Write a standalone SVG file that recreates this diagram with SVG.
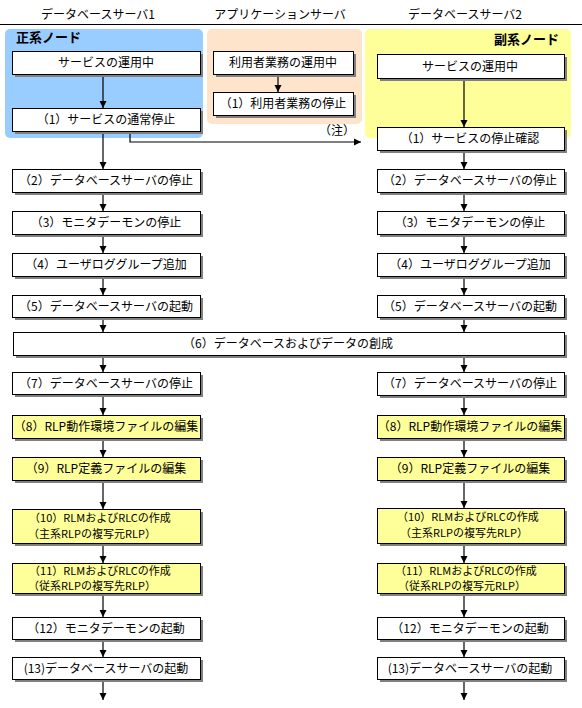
<svg xmlns="http://www.w3.org/2000/svg" width="582" height="708" viewBox="0 0 582 708">
<defs>
<style>
.t{font-family:"Noto Sans CJK JP","Noto Sans CJK SC",sans-serif;font-size:12px;fill:#000;text-anchor:middle}
.t2{font-family:"Noto Sans CJK JP","Noto Sans CJK SC",sans-serif;font-size:11px;fill:#000;text-anchor:middle}
.h{font-family:"Noto Sans CJK JP","Noto Sans CJK SC",sans-serif;font-size:12px;fill:#000;text-anchor:middle}
.lb{font-family:"Noto Sans CJK JP","Noto Sans CJK SC",sans-serif;font-size:13px;font-weight:bold;fill:#000}
.sh{fill:#808080}
.bx{fill:#fff;stroke:#000;stroke-width:1}
.yb{fill:#ffff99;stroke:#000;stroke-width:1}
.ln{stroke:#000;stroke-width:1.2;fill:none}
</style>
<marker id="ah" markerWidth="8" markerHeight="8" refX="7" refY="4" orient="auto" markerUnits="userSpaceOnUse"><path d="M0,0.5 L7,4 L0,7.5 z" fill="#000"/></marker>
</defs>
<rect width="582" height="708" fill="#fff"/>

<g id="header">
<text class="h" x="98" y="19">データベースサーバ1</text>
<text class="h" x="280" y="19">アプリケーションサーバ</text>
<text class="h" x="465" y="19">データベースサーバ2</text>
<line x1="0" y1="24.5" x2="582" y2="24.5" stroke="#000" stroke-width="1"/>
</g>

<g id="regions">
<rect x="5" y="29" width="198" height="109" rx="5" fill="#99ccff"/>
<rect x="207" y="29" width="155" height="95" rx="5" fill="#ffe4cc"/>
<rect x="365" y="29" width="206" height="109" rx="5" fill="#ffff99"/>
<text class="lb" x="16" y="42">正系ノード</text>
<text class="lb" x="559" y="44" text-anchor="end">副系ノード</text>
</g>

<g id="connectors">
<line class="ln" x1="103" y1="74" x2="103" y2="108" marker-end="url(#ah)"/>
<line class="ln" x1="103" y1="131" x2="103" y2="169" marker-end="url(#ah)"/>
<line class="ln" x1="103" y1="192" x2="103" y2="211" marker-end="url(#ah)"/>
<line class="ln" x1="103" y1="234" x2="103" y2="253" marker-end="url(#ah)"/>
<line class="ln" x1="103" y1="276" x2="103" y2="295" marker-end="url(#ah)"/>
<line class="ln" x1="103" y1="317" x2="103" y2="332" marker-end="url(#ah)"/>
<line class="ln" x1="103" y1="355" x2="103" y2="372" marker-end="url(#ah)"/>
<line class="ln" x1="103" y1="394" x2="103" y2="415" marker-end="url(#ah)"/>
<line class="ln" x1="103" y1="438" x2="103" y2="457" marker-end="url(#ah)"/>
<line class="ln" x1="103" y1="480" x2="103" y2="509" marker-end="url(#ah)"/>
<line class="ln" x1="103" y1="543" x2="103" y2="563" marker-end="url(#ah)"/>
<line class="ln" x1="103" y1="593" x2="103" y2="617" marker-end="url(#ah)"/>
<line class="ln" x1="103" y1="639" x2="103" y2="657" marker-end="url(#ah)"/>
<line class="ln" x1="103" y1="679" x2="103" y2="700" marker-end="url(#ah)"/>

<line class="ln" x1="278" y1="74" x2="278" y2="92" marker-end="url(#ah)"/>

<path class="ln" d="M130,131 V142 H361" marker-end="url(#ah)"/>

<line class="ln" x1="464" y1="78" x2="464" y2="127" marker-end="url(#ah)"/>
<line class="ln" x1="464" y1="150" x2="464" y2="169" marker-end="url(#ah)"/>
<line class="ln" x1="464" y1="192" x2="464" y2="211" marker-end="url(#ah)"/>
<line class="ln" x1="464" y1="234" x2="464" y2="253" marker-end="url(#ah)"/>
<line class="ln" x1="464" y1="276" x2="464" y2="295" marker-end="url(#ah)"/>
<line class="ln" x1="464" y1="317" x2="464" y2="332" marker-end="url(#ah)"/>
<line class="ln" x1="464" y1="355" x2="464" y2="372" marker-end="url(#ah)"/>
<line class="ln" x1="464" y1="395" x2="464" y2="415" marker-end="url(#ah)"/>
<line class="ln" x1="464" y1="438" x2="464" y2="457" marker-end="url(#ah)"/>
<line class="ln" x1="464" y1="480" x2="464" y2="508" marker-end="url(#ah)"/>
<line class="ln" x1="464" y1="543" x2="464" y2="563" marker-end="url(#ah)"/>
<line class="ln" x1="464" y1="593" x2="464" y2="617" marker-end="url(#ah)"/>
<line class="ln" x1="464" y1="639" x2="464" y2="657" marker-end="url(#ah)"/>
<line class="ln" x1="464" y1="679" x2="464" y2="700" marker-end="url(#ah)"/>
<text class="t" x="337" y="135">（注）</text>
</g>

<g id="l0"><rect class="sh" x="15" y="54" width="188" height="23"/><rect class="bx" x="12.5" y="51.5" width="188" height="23"/><text class="t" x="106" y="67">サービスの運用中</text></g>
<g id="l1"><rect class="sh" x="15" y="111" width="188" height="23"/><rect class="bx" x="12.5" y="108.5" width="188" height="23"/><text class="t" x="106" y="124">（1）サービスの通常停止</text></g>
<g id="l2"><rect class="sh" x="15" y="172" width="188" height="23"/><rect class="bx" x="12.5" y="169.5" width="188" height="23"/><text class="t" x="106" y="185">（2）データベースサーバの停止</text></g>
<g id="l3"><rect class="sh" x="15" y="214" width="188" height="23"/><rect class="bx" x="12.5" y="211.5" width="188" height="23"/><text class="t" x="106" y="227">（3）モニタデーモンの停止</text></g>
<g id="l4"><rect class="sh" x="15" y="256" width="188" height="23"/><rect class="bx" x="12.5" y="253.5" width="188" height="23"/><text class="t" x="106" y="269">（4）ユーザロググループ追加</text></g>
<g id="l5"><rect class="sh" x="15" y="298" width="188" height="22"/><rect class="bx" x="12.5" y="295.5" width="188" height="22"/><text class="t" x="106" y="311">（5）データベースサーバの起動</text></g>
<g id="l7"><rect class="sh" x="15" y="375" width="188" height="22"/><rect class="bx" x="12.5" y="372.5" width="188" height="22"/><text class="t" x="106" y="388">（7）データベースサーバの停止</text></g>
<g id="l8"><rect class="sh" x="15" y="418" width="188" height="23"/><rect class="yb" x="12.5" y="415.5" width="188" height="23"/><text class="t" x="106" y="431">（8）RLP動作環境ファイルの編集</text></g>
<g id="l9"><rect class="sh" x="15" y="460" width="188" height="23"/><rect class="yb" x="12.5" y="457.5" width="188" height="23"/><text class="t" x="106" y="473">（9）RLP定義ファイルの編集</text></g>
<g id="l10"><rect class="sh" x="15" y="512" width="188" height="34"/><rect class="yb" x="12.5" y="509.5" width="188" height="34"/><text class="t2" x="100" y="522">（10）RLMおよびRLCの作成</text><text class="t2" x="92" y="538">（主系RLPの複写元RLP）</text></g>
<g id="l11"><rect class="sh" x="15" y="566" width="188" height="30"/><rect class="yb" x="12.5" y="563.5" width="188" height="30"/><text class="t2" x="100" y="575">（11）RLMおよびRLCの作成</text><text class="t2" x="92" y="590">（従系RLPの複写先RLP）</text></g>
<g id="l12"><rect class="sh" x="15" y="620" width="188" height="22"/><rect class="bx" x="12.5" y="617.5" width="188" height="22"/><text class="t" x="106" y="633">（12）モニタデーモンの起動</text></g>
<g id="l13"><rect class="sh" x="15" y="660" width="188" height="22"/><rect class="bx" x="12.5" y="657.5" width="188" height="22"/><text class="t" x="106" y="673">(13)データベースサーバの起動</text></g>

<g id="p0"><rect class="sh" x="216" y="54" width="140" height="23"/><rect class="bx" x="213.5" y="51.5" width="140" height="23"/><text class="t" x="283" y="67">利用者業務の運用中</text></g>
<g id="p1"><rect class="sh" x="216" y="95" width="140" height="23"/><rect class="bx" x="213.5" y="92.5" width="140" height="23"/><text class="t" x="283" y="108">（1）利用者業務の停止</text></g>

<g id="n6"><rect class="sh" x="16" y="335" width="551" height="23"/><rect class="bx" x="13.5" y="332.5" width="551" height="23"/><text class="t" x="288" y="348">（6）データベースおよびデータの創成</text></g>

<g id="r0"><rect class="sh" x="380" y="57" width="187" height="24"/><rect class="bx" x="377.5" y="54.5" width="187" height="24"/><text class="t" x="470" y="71">サービスの運用中</text></g>
<g id="r1"><rect class="sh" x="380" y="130" width="187" height="23"/><rect class="bx" x="377.5" y="127.5" width="187" height="23"/><text class="t" x="470" y="143">（1）サービスの停止確認</text></g>
<g id="r2"><rect class="sh" x="380" y="172" width="187" height="23"/><rect class="bx" x="377.5" y="169.5" width="187" height="23"/><text class="t" x="470" y="185">（2）データベースサーバの停止</text></g>
<g id="r3"><rect class="sh" x="380" y="214" width="187" height="23"/><rect class="bx" x="377.5" y="211.5" width="187" height="23"/><text class="t" x="470" y="227">（3）モニタデーモンの停止</text></g>
<g id="r4"><rect class="sh" x="380" y="256" width="187" height="23"/><rect class="bx" x="377.5" y="253.5" width="187" height="23"/><text class="t" x="470" y="269">（4）ユーザロググループ追加</text></g>
<g id="r5"><rect class="sh" x="380" y="298" width="187" height="22"/><rect class="bx" x="377.5" y="295.5" width="187" height="22"/><text class="t" x="470" y="311">（5）データベースサーバの起動</text></g>
<g id="r7"><rect class="sh" x="380" y="375" width="187" height="23"/><rect class="bx" x="377.5" y="372.5" width="187" height="23"/><text class="t" x="470" y="388">（7）データベースサーバの停止</text></g>
<g id="r8"><rect class="sh" x="380" y="418" width="187" height="23"/><rect class="yb" x="377.5" y="415.5" width="187" height="23"/><text class="t" x="470" y="431">（8）RLP動作環境ファイルの編集</text></g>
<g id="r9"><rect class="sh" x="380" y="460" width="187" height="23"/><rect class="yb" x="377.5" y="457.5" width="187" height="23"/><text class="t" x="470" y="473">（9）RLP定義ファイルの編集</text></g>
<g id="r10"><rect class="sh" x="380" y="511" width="187" height="35"/><rect class="yb" x="377.5" y="508.5" width="187" height="35"/><text class="t2" x="468" y="521">（10）RLMおよびRLCの作成</text><text class="t2" x="464" y="537">（主系RLPの複写先RLP）</text></g>
<g id="r11"><rect class="sh" x="380" y="566" width="187" height="30"/><rect class="yb" x="377.5" y="563.5" width="187" height="30"/><text class="t2" x="466" y="575">（11）RLMおよびRLCの作成</text><text class="t2" x="462" y="590">（従系RLPの複写元RLP）</text></g>
<g id="r12"><rect class="sh" x="380" y="620" width="187" height="22"/><rect class="bx" x="377.5" y="617.5" width="187" height="22"/><text class="t" x="470" y="633">（12）モニタデーモンの起動</text></g>
<g id="r13"><rect class="sh" x="380" y="660" width="187" height="22"/><rect class="bx" x="377.5" y="657.5" width="187" height="22"/><text class="t" x="470" y="673">(13)データベースサーバの起動</text></g>
</svg>
